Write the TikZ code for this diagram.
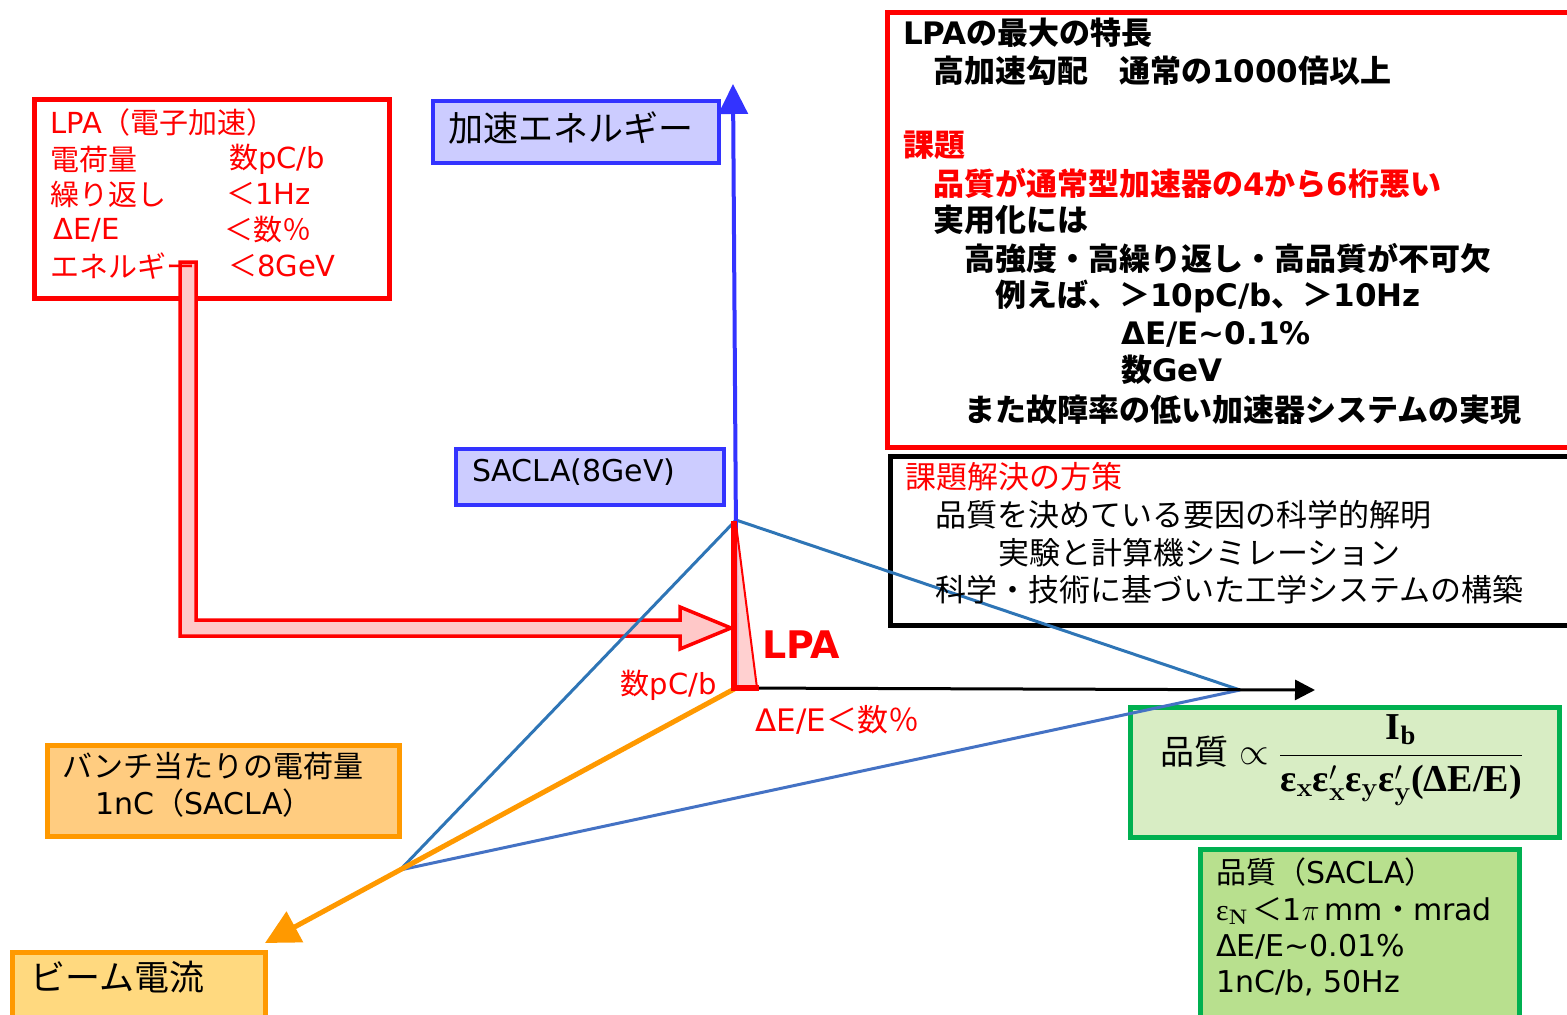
\RequirePackage{fix-cm}
\documentclass[tikz,border=0pt]{standalone}
\usepackage{amsmath,bm}
\usepackage[no-math]{fontspec}
\setmainfont{DejaVu Sans}
\newfontfamily\cjkfont{Noto Sans CJK JP}
\newfontfamily\fser{Liberation Serif}
\XeTeXinterchartokenstate=1
\newXeTeXintercharclass\CJKcls
\count255="3000
\loop \XeTeXcharclass\count255=\CJKcls \ifnum\count255<"9FFF \advance\count255 by 1 \repeat
\count255="FF00
\loop \XeTeXcharclass\count255=\CJKcls \ifnum\count255<"FFEF \advance\count255 by 1 \repeat
\XeTeXinterchartoks 0 \CJKcls = {\begingroup\cjkfont}
\XeTeXinterchartoks 4095 \CJKcls = {\begingroup\cjkfont}
\XeTeXinterchartoks \CJKcls 0 = {\endgroup}
\XeTeXinterchartoks \CJKcls 4095 = {\endgroup}
\usetikzlibrary{arrows.meta,calc}
\newcommand\myfs[1]{\fontsize{#1}{#1}\selectfont}
\newcommand\feps{\text{\fser\bfseries ε}}
\definecolor{cred}{HTML}{FF0000}
\definecolor{axblue}{HTML}{3333FF}
\definecolor{bfill}{HTML}{CCCCFF}
\definecolor{tblue}{HTML}{2E75B6}
\definecolor{tblueb}{HTML}{4472C4}
\definecolor{corange}{HTML}{FF9900}
\definecolor{ofillA}{HTML}{FFCC80}
\definecolor{ofillB}{HTML}{FFD97F}
\definecolor{cgreen}{HTML}{00B050}
\definecolor{gfillA}{HTML}{D8EDC4}
\definecolor{gfillB}{HTML}{B8E08E}
\definecolor{pinkf}{HTML}{FFC8C8}
\tikzset{
  boxbase/.style={rectangle,anchor=north west,inner sep=0pt},
  redbox/.style={boxbase,draw=cred,line width=4.5pt,fill=white},
  blackbox/.style={boxbase,draw=black,line width=5pt,fill=white},
  bluebox/.style={boxbase,draw=axblue,line width=4pt,fill=bfill},
  orangeboxA/.style={boxbase,draw=corange,line width=4.5pt,fill=ofillA},
  orangeboxB/.style={boxbase,draw=corange,line width=4.5pt,fill=ofillB},
  greenboxA/.style={boxbase,draw=cgreen,line width=5pt,fill=gfillA},
  greenboxB/.style={boxbase,draw=cgreen,line width=5pt,fill=gfillB},
  tl/.style={anchor=west,inner sep=0pt,font=\myfs{#1}},
  tlb/.style={anchor=west,inner sep=0pt,font=\myfs{#1}\bfseries},
  thinline/.style={line width=3pt,color=tblue},
}
\begin{document}
\begin{tikzpicture}[x=1pt,y=-1pt]
\useasboundingbox (0,0) rectangle (1567,1015);
% boxes
\node[redbox,minimum width=355pt,minimum height=199pt] (lpabox) at (32,97) {};
\node[redbox,minimum width=700pt,minimum height=435pt] (featbox) at (885,10) {};
\node[blackbox,minimum width=700pt,minimum height=169pt] (solbox) at (888,454) {};
\node[bluebox,minimum width=286pt,minimum height=62pt] (ebox) at (431,99) {};
\node[bluebox,minimum width=268pt,minimum height=56pt] (sbox) at (454,447) {};
\node[orangeboxA,minimum width=352pt,minimum height=91pt] (qbox) at (45,743) {};
\node[orangeboxB,minimum width=253pt,minimum height=90pt] (ibox) at (10,950) {};
\node[greenboxA,minimum width=429pt,minimum height=130pt] (fbox) at (1128,705) {};
\node[greenboxB,minimum width=319pt,minimum height=190pt] (gbox) at (1198,847) {};
% named points
\coordinate (O) at (736,688);
\coordinate (Ebot) at (737,690);
\coordinate (Etop) at (733,84);
\coordinate (Xend) at (1315,690);
\coordinate (Iend) at (265,943);
\coordinate (T) at (736,520);
\coordinate (R) at (1240,690);
\coordinate (L) at (400,870);
% hollow arrow from LPA box to LPA
\draw[line width=3.5pt,draw=cred,fill=pinkf,line join=miter]
  (180,262) -- (196,262) -- (196,620) -- (680,620) -- (680,607) -- (731,628)
  -- (680,649) -- (680,636) -- (180,636) -- cycle;
% thin blue lines
\draw[thinline] (T) -- (L);
\draw[thinline] (T) -- (R);
\draw[thinline,color=tblueb] (L) -- (R);
% axes
\draw[line width=4pt,color=axblue,-{Triangle[length=30pt,width=29pt]}] (Ebot) -- (Etop);
\draw[line width=3pt,color=black,-{Triangle[length=20pt,width=20pt]}] (O) -- (Xend);
\draw[line width=5pt,color=corange,-{Triangle[length=34pt,width=34pt]}] (O) -- (Iend);
% LPA triangle
\fill[pinkf,opacity=0.85] (735,522) -- (735,688) -- (757,688) -- cycle;
\draw[cred,line width=2pt] (736,524) -- (757,688);
\draw[cred,line width=6pt,line cap=rect] (734,524) -- (734,688) -- (756,688);
% labels
\node[tlb=38,text=cred] (lpalab) at (762,645) {LPA};
\node[tl=29,text=cred,anchor=east] (pclab) at (717,685) {数pC/b};
\node[tl=31,text=cred] (delab) at (755,720) {ΔE/E＜数％};
% LPA box text
\begin{scope}[every node/.append style={text=cred}]
\node[tl=29] (a1) at (50,122) {LPA（電子加速）};
\node[tl=29] (a2) at (50,159) {電荷量};
\node[tl=29] (a3) at (50,194) {繰り返し};
\node[tl=29] (a4) at (53,230) {ΔE/E};
\node[tl=29] (a5) at (50,266) {エネルギー};
\node[tl=29] (b2) at (229,159) {数pC/b};
\node[tl=29] (b3) at (226,194) {＜1Hz};
\node[tl=29] (b4) at (224,230) {＜数％};
\node[tl=29] (b5) at (228,266) {＜8GeV};
\end{scope}
% feature box text
\node[tlb=31] (f1) at (903,33) {LPAの最大の特長};
\node[tlb=31] (f2) at (933,71) {高加速勾配　通常の1000倍以上};
\node[tlb=31,text=cred] (f3) at (903,145) {課題};
\node[tlb=31,text=cred] (f4) at (933,183) {品質が通常型加速器の4から6桁悪い};
\node[tlb=31] (f5) at (933,220) {実用化には};
\node[tlb=31] (f6) at (964,258) {高強度・高繰り返し・高品質が不可欠};
\node[tlb=31] (f7) at (995,296) {例えば、＞10pC/b、＞10Hz};
\node[tlb=31] (f8) at (1121,334) {ΔE/E\textasciitilde 0.1\%};
\node[tlb=31] (f9) at (1121,370) {数GeV};
\node[tlb=31] (f10) at (964,410) {また故障率の低い加速器システムの実現};
% solution box text
\node[tl=31,text=cred] (s1) at (905,477) {課題解決の方策};
\node[tl=31] (s2) at (935,515) {品質を決めている要因の科学的解明};
\node[tl=31] (s3) at (998,553) {実験と計算機シミレーション};
\node[tl=31] (s4) at (935,590) {科学・技術に基づいた工学システムの構築};
% blue boxes text
\node[tl=35] (et) at (448,128) {加速エネルギー};
\node[tl=30] (st) at (472,472) {SACLA(8GeV)};
% orange text
\node[tl=30] (q1) at (62,766) {バンチ当たりの電荷量};
\node[tl=30] (q2) at (95,803) {1nC（SACLA）};
\node[tl=35] (it) at (30,977) {ビーム電流};
% formula
\node[tl=34] (ft) at (1160,760) {品質 {\myfs{38}$\propto\displaystyle\frac{\text{\fser\bfseries I}_{\text{\fser\bfseries b}}}{\feps_{\mathbf{x}}\feps'_{\mathbf{x}}\feps_{\mathbf{y}}\feps'_{\mathbf{y}}\text{\fser\bfseries (ΔE/E)}}$}};
% green SACLA text
\node[tl=30] (g1) at (1216,872) {品質（SACLA）};
\node[tl=30] (g2) at (1216,911) {\text{\fser ε}$_{\mathbf{N}}$\,＜1$\pi$\,mm・mrad};
\node[tl=30] (g3) at (1216,947) {ΔE/E\textasciitilde 0.01\%};
\node[tl=30] (g4) at (1216,983) {1nC/b, 50Hz};
\end{tikzpicture}
\end{document}
